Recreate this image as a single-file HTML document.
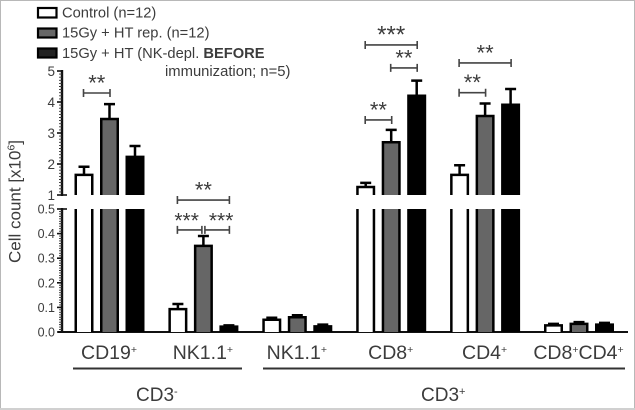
<!DOCTYPE html>
<html>
<head>
<meta charset="utf-8">
<title>Cell count chart</title>
<style>
html,body{margin:0;padding:0;background:#fff;}
svg{display:block;filter:blur(0.35px);font-family:"Liberation Sans",sans-serif;}
text{fill:#3c3c3c;}
</style>
</head>
<body>
<svg id="chart" width="635" height="410" viewBox="0 0 635 410" xmlns="http://www.w3.org/2000/svg">
  <rect x="0" y="0" width="635" height="410" fill="#fff"/>
  <path d="M0.5 409V0.5H634.5V409" fill="none" stroke="#b8b8b8" stroke-width="1"/>
  <rect x="0" y="408" width="635" height="2" fill="#d0d0d0"/>

  <g>
    <rect x="38" y="8" width="18.500" height="9.500" fill="#fff" stroke="#000" stroke-width="2.200"/>
    <text x="62" y="17.500" font-size="14.700">Control (n=12)</text>
    <rect x="38" y="28.500" width="18.500" height="9" fill="#666" stroke="#000" stroke-width="2.200"/>
    <text x="62" y="37.500" font-size="14.700">15Gy + HT rep. (n=12)</text>
    <rect x="38" y="48.500" width="18.500" height="9" fill="#222" stroke="#000" stroke-width="2.200"/>
    <text x="62" y="58" font-size="14.700">15Gy + HT (NK-depl. <tspan font-weight="bold">BEFORE</tspan></text>
    <text x="165" y="76" font-size="14.800">immunization; n=5)</text>
  </g>

  <g id="axis"></g>
  <g id="bars"></g>
  <g id="sig"></g>
  <g id="cats"></g>

  <text transform="translate(20.500,263) rotate(-90)" font-size="17">Cell count [x10<tspan font-size="10.500" dy="-6">6</tspan><tspan dy="6">]</tspan></text>

  <rect x="73" y="367.500" width="169" height="2" fill="#333"/>
  <rect x="263" y="367.500" width="362" height="2" fill="#333"/>
  <text x="136" y="401" font-size="19">CD3<tspan font-size="11" dy="-6">-</tspan></text>
  <text x="421" y="401" font-size="19">CD3<tspan font-size="11" dy="-6">+</tspan></text>
</svg>
<script>
var categories = ["CD19", "NK1.1", "NK1.1", "CD8", "CD4", "CD8CD4"];
var seriesNames = ["control", "ht", "nk-depleted"];
var controlValues = [1.65, 0.093, 0.05, 1.26, 1.65, 0.027];
var htValues = [3.45, 0.35, 0.06, 2.7, 3.55, 0.033];
var depletedValues = [2.23, 0.022, 0.023, 4.2, 3.91, 0.03];
var controlTops = [1.91, 0.114, 0.058, 1.39, 1.96, 0.033];
var htTops = [3.93, 0.39, 0.068, 3.1, 3.95, 0.04];
var depletedTops = [2.58, 0.027, 0.03, 4.69, 4.42, 0.037];
var upperTicks = [1, 2, 3, 4, 5];
var lowerTicks = [0, 0.1, 0.2, 0.3, 0.4, 0.5];
var sigGroups = [0, 1, 1, 1, 3, 3, 3, 4, 4];
var sigFrom = [0, 0, 0, 1, 0, 1, 0, 0, 0];
var sigTo = [1, 2, 1, 2, 2, 2, 1, 2, 1];
var sigLevels = [4.29, 0.82, 0.415, 0.415, 5.84, 5.1, 3.42, 5.26, 4.3];
var sigLabels = ["**", "**", "***", "***", "***", "**", "**", "**", "**"];

var NS = "http://www.w3.org/2000/svg";
function make(tag, attrs, parent, txt) {
  var e = document.createElementNS(NS, tag);
  for (var k in attrs) e.setAttribute(k, attrs[k]);
  if (txt !== undefined) e.textContent = txt;
  parent.appendChild(e);
  return e;
}

var LOW0 = 332, LOWTOP = 209, UP1 = 195, UPPER_PX = 31;
function yScale(v) {
  if (v <= 0.5) return LOW0 - v * (LOW0 - LOWTOP) / 0.5;
  if (v < 1) return LOWTOP - (v - 0.5) * (LOWTOP - UP1) / 0.5;
  return UP1 - (v - 1) * UPPER_PX;
}
function xScale(group, series) {
  return 84 + group * 93.9 + series * 25.5;
}

var axis = document.getElementById("axis");
var barsG = document.getElementById("bars");
var sigG = document.getElementById("sig");
var catsG = document.getElementById("cats");

/* y axis */
var spine1 = make("line", {x1: 62, x2: 62, y1: yScale(5) - 1, y2: UP1 + 1, stroke: "#111", "stroke-width": 2.4}, axis);


var spine2 = make("line", {x1: 62, x2: 62, y1: LOWTOP - 1, y2: LOW0, stroke: "#111", "stroke-width": 2.4}, axis);



var minorPath = "";
for (var m = 10; m <= 50; m++) {
  var my = yScale(m / 10);
  minorPath += "M59 " + my + "H62";
}
for (var n = 0; n <= 50; n++) {
  var ny = yScale(n / 100);
  minorPath += "M59 " + ny + "H62";
}
var minor = make("path", {d: minorPath, stroke: "#333", "stroke-width": 0.9, fill: "none"}, axis);



upperTicks.forEach(function (t) {
  var y = yScale(t);
  var ext = (t === 1) ? 67 : (t === 5 ? 63 : 62);
  var tick = make("line", {x1: 57, x2: ext, y1: y, y2: y, stroke: "#111", "stroke-width": 1.6}, axis);
  
  
  var lab = make("text", {x: 55, y: y + 5, "text-anchor": "end", "font-size": 13.5}, axis, String(t));
  
  
});
lowerTicks.forEach(function (t) {
  var y = yScale(t);
  var ext = (t === 0.5) ? 67 : 62;
  var tick = make("line", {x1: 57, x2: ext, y1: y, y2: y, stroke: "#111", "stroke-width": 1.6}, axis);
  
  
  var lab = make("text", {x: 55, y: y + 4.500, "text-anchor": "end", "font-size": 12.5}, axis, t.toFixed(1));
  
  
});
var baseline = make("line", {x1: 58, x2: 628, y1: LOW0, y2: LOW0, stroke: "#111", "stroke-width": 2}, axis);



/* bars */
var BW = 16.5;
var fills = ["#fff", "#666", "#000"];
var allValues = [controlValues, htValues, depletedValues];
var allTops = [controlTops, htTops, depletedTops];

function segment(cx, yTop, yBot, closedTop, fill, group, series, part) {
  var l = cx - BW / 2, r = cx + BW / 2;
  var f = make("rect", {x: l, y: yTop, width: BW, height: yBot - yTop, fill: fill}, barsG);
  
  
  var d = "M" + l + " " + yBot + "V" + yTop + (closedTop ? "H" + r : "M" + r + " " + yTop) + "V" + yBot;
  var o = make("path", {d: d, fill: "none", stroke: "#000", "stroke-width": 2.5}, barsG);
  
  
}

categories.forEach(function (cat, g) {
  seriesNames.forEach(function (name, s) {
    var v = allValues[s][g], top = allTops[s][g];
    var cx = xScale(g, s), key = cat.toLowerCase().replace(".", "") + "-" + g;
    var yT = yScale(top), yV = yScale(v);
    var err = make("path", {
      d: "M" + cx + " " + yV + "V" + yT + "M" + (cx - 5.5) + " " + yT + "H" + (cx + 5.5),
      fill: "none", stroke: "#000", "stroke-width": 2.5
    }, barsG);
    
    
    if (v > 1) {
      segment(cx, LOWTOP, LOW0, false, fills[s], key, name, "lower");
      segment(cx, yV, UP1, true, fills[s], key, name, "upper");
    } else {
      segment(cx, yV, LOW0, true, fills[s], key, name, "main");
    }
  });
  var tx = xScale(g, 1) - 0.5;
  var label = make("text", {x: tx, y: 359, "text-anchor": "middle", "font-size": 19.5}, catsG);
  
  
  var parts = (cat === "CD8CD4") ? ["CD8", "CD4"] : [cat];
  parts.forEach(function (p) {
    make("tspan", {dy: 0}, label, p);
    make("tspan", {"font-size": 10.5, dy: -6}, label, "+");
    make("tspan", {"font-size": 19.5, dy: 6}, label, "\u200b");
  });
});

/* significance */
sigLevels.forEach(function (lv, i) {
  var g = sigGroups[i];
  var isNkLeft = sigLabels[i] === "***" && g === 1 && sigTo[i] === 1;
  var isNkRight = sigLabels[i] === "***" && g === 1 && sigFrom[i] === 1;
  var x1 = xScale(g, sigFrom[i]) + (isNkRight ? 2 : 0) - 0.5;
  var x2 = xScale(g, sigTo[i]) + (isNkLeft ? -2 : 0) + 0.5;
  var y = yScale(lv);
  var b = make("path", {
    d: "M" + x1 + " " + (y - 4) + "V" + (y + 4) + "M" + x1 + " " + y + "H" + x2 + "M" + x2 + " " + (y - 4) + "V" + (y + 4),
    fill: "none", stroke: "#444", "stroke-width": 1.6
  }, sigG);
  
  
  var fs = sigLabels[i] === "***" ? (g === 1 ? 21 : 24) : 22;
  var starShift = isNkLeft ? -3 : (isNkRight ? 4 : 0);
  var t = make("text", {x: (x1 + x2) / 2 + starShift, y: y - 2.5, "text-anchor": "middle", "font-size": fs, "font-weight": "normal"}, sigG, sigLabels[i]);
  
  
});
</script>
</body>
</html>
